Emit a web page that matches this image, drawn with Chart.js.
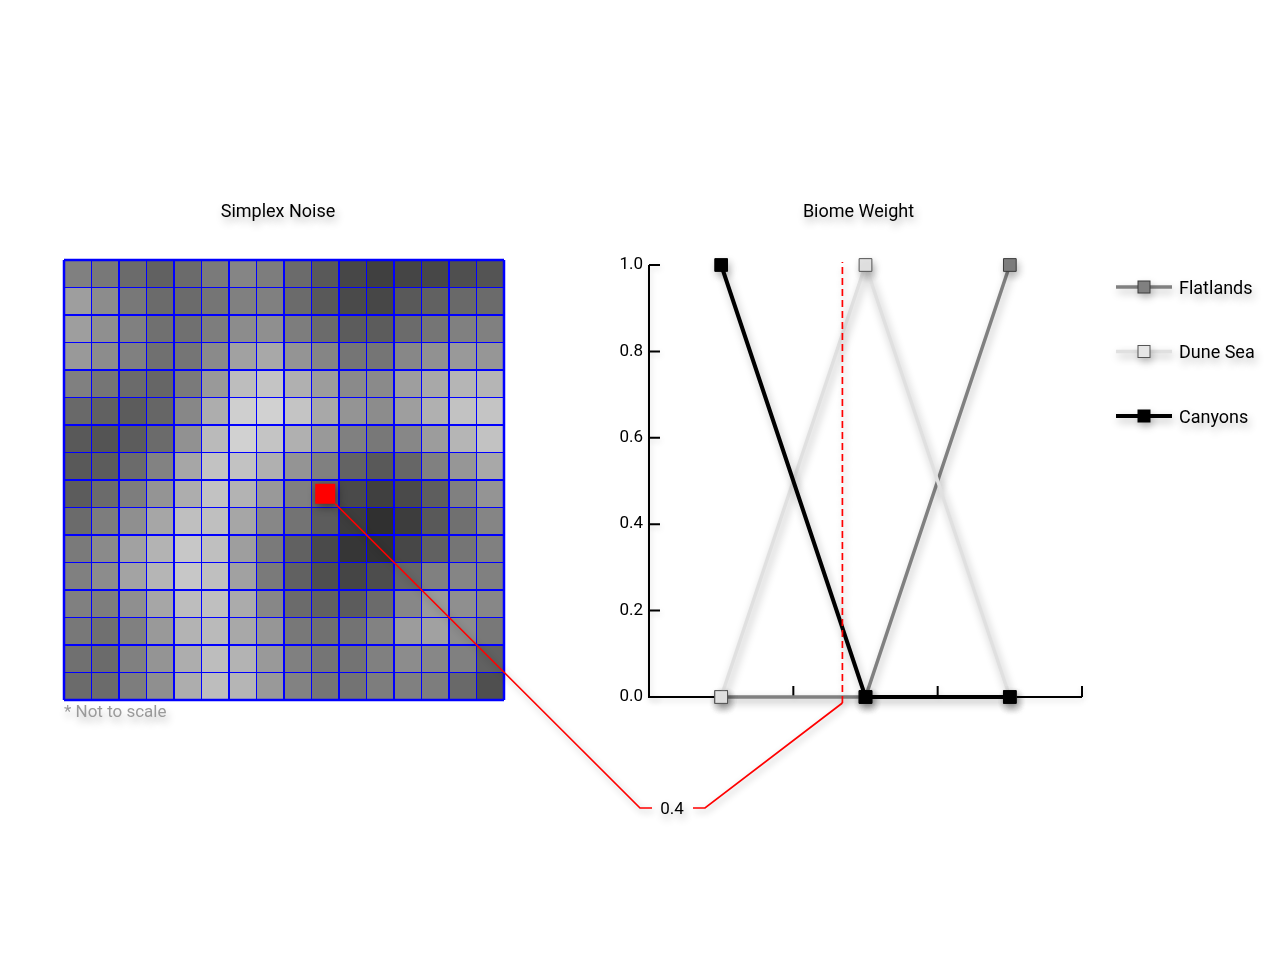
<!DOCTYPE html>
<html><head><meta charset="utf-8">
<script src="https://cdn.jsdelivr.net/npm/chart.js@4.4.0/dist/chart.umd.min.js"></script>
<style>
html,body{margin:0;padding:0;background:#fff;width:1280px;height:960px;overflow:hidden}
canvas{position:absolute;left:0;top:0}
</style></head><body>
<canvas id="noise" width="1280" height="960"></canvas>
<canvas id="biome" width="1280" height="960"></canvas>
<script>
// ---------- DATA ----------
const noiseRows = [
  [.50,.47,.42,.38,.42,.48,.52,.49,.42,.35,.28,.25,.27,.28,.31,.33],
  [.62,.55,.47,.42,.42,.46,.50,.50,.42,.35,.29,.28,.35,.38,.41,.42],
  [.62,.56,.50,.44,.44,.49,.55,.56,.49,.42,.36,.36,.42,.46,.50,.50],
  [.60,.55,.50,.44,.46,.54,.63,.66,.58,.52,.46,.46,.53,.57,.60,.59],
  [.50,.46,.42,.40,.48,.60,.74,.77,.69,.61,.54,.54,.62,.66,.71,.71],
  [.41,.38,.36,.40,.53,.68,.81,.82,.77,.66,.58,.55,.62,.69,.76,.77],
  [.35,.33,.36,.42,.57,.73,.82,.77,.69,.60,.50,.47,.53,.61,.71,.76],
  [.35,.36,.42,.51,.65,.76,.76,.69,.58,.50,.39,.35,.40,.50,.59,.66],
  [.36,.42,.49,.58,.68,.76,.70,.60,.50,.40,.29,.25,.29,.37,.50,.58],
  [.42,.49,.56,.65,.75,.75,.65,.53,.45,.36,.24,.19,.24,.35,.44,.52],
  [.48,.54,.63,.70,.78,.75,.62,.48,.38,.29,.21,.20,.28,.38,.46,.50],
  [.50,.55,.64,.71,.78,.75,.63,.48,.38,.31,.27,.30,.40,.50,.52,.50],
  [.50,.49,.56,.65,.74,.75,.67,.53,.42,.38,.36,.42,.53,.60,.56,.53],
  [.47,.44,.50,.60,.70,.73,.66,.59,.47,.44,.45,.51,.61,.63,.55,.47],
  [.44,.42,.50,.58,.68,.74,.70,.60,.50,.46,.45,.50,.55,.53,.50,.38],
  [.42,.42,.49,.56,.68,.74,.71,.60,.51,.46,.45,.49,.50,.49,.41,.31]
];
const highlightRow = 8;
const highlightCol = 9;
const noiseTitle = 'Simplex Noise';
const noiseNote = '* Not to scale';

const biomeTitle = 'Biome Weight';
const biomeCategories = ['Low', 'Mid', 'High'];
const flatlands = [0, 0, 1];
const duneSea = [0, 1, 0];
const canyons = [1, 0, 0];
const weightTicks = [0, 0.2, 0.4, 0.6, 0.8, 1.0];
const markerPosition = 0.84;

// ---------- HELPERS ----------
const FONT = 'Roboto, "Open Sans", sans-serif';
Chart.defaults.font.family = FONT;
function grayOf(v){ const g = Math.round(v*255); return `rgb(${g},${g},${g})`; }
function shadow(ctx, a, blur, ox, oy){
  ctx.shadowColor = `rgba(0,0,0,${a})`; ctx.shadowBlur = blur;
  ctx.shadowOffsetX = ox; ctx.shadowOffsetY = oy;
}
function noShadow(ctx){ ctx.shadowColor='rgba(0,0,0,0)'; ctx.shadowBlur=0; ctx.shadowOffsetX=0; ctx.shadowOffsetY=0; }

// ---------- LEFT: NOISE GRID ----------
const nCols = noiseRows[0].length, nRows = noiseRows.length;
const colLabels = noiseRows[0].map((_, i) => String(i));

const noiseOverlay = {
  id: 'noiseOverlay',
  afterDatasetsDraw(chart){
    const {ctx, chartArea: a, scales: {x, y}} = chart;
    ctx.save();
    ctx.strokeStyle = '#0000ff';
    for (let i = 0; i <= nCols; i++){
      const px = x.getPixelForValue(i - 0.5);
      ctx.lineWidth = (i === 0 || i === nCols) ? 2.5 : (i % 2 === 0 ? 2 : 1);
      ctx.beginPath(); ctx.moveTo(px, a.top); ctx.lineTo(px, a.bottom); ctx.stroke();
    }
    for (let j = 0; j <= nRows; j++){
      const py = y.getPixelForValue(j);
      ctx.lineWidth = (j === 0 || j === nRows) ? 2.5 : (j % 2 === 0 ? 2 : 1);
      ctx.beginPath(); ctx.moveTo(a.left, py); ctx.lineTo(a.right, py); ctx.stroke();
    }
    // highlighted sample
    const cx = x.getPixelForValue(highlightCol), cy = y.getPixelForValue(highlightRow + 0.5);
    shadow(ctx, 0.45, 10, 2, 3);
    ctx.fillStyle = '#ff0000';
    ctx.fillRect(cx - 10, cy - 10, 20, 20);
    // texts
    shadow(ctx, 0.3, 8, 2, 5);
    ctx.fillStyle = '#000';
    ctx.font = `18px ${FONT}`;
    ctx.textAlign = 'center'; ctx.textBaseline = 'middle';
    ctx.fillText(noiseTitle, (a.left + a.right)/2 - 6, a.top - 48);
    ctx.fillStyle = '#9a9a9a';
    ctx.font = `17px ${FONT}`;
    ctx.textAlign = 'left';
    ctx.fillText(noiseNote, a.left, a.bottom + 13);
    ctx.restore();
  }
};

const noiseChart = new Chart(document.getElementById('noise'), {
  type: 'bar',
  data: {
    labels: colLabels,
    datasets: noiseRows.map((row, r) => ({
      data: row.map(() => [r, r + 1]),
      backgroundColor: row.map(v => grayOf(v)),
      borderWidth: 0, grouped: false, barPercentage: 1, categoryPercentage: 1
    }))
  },
  options: {
    responsive: false, animation: false, devicePixelRatio: 1,
    layout: {padding: {left: 64, top: 260, right: 776, bottom: 260}},
    scales: {
      x: {display: false, offset: true},
      y: {display: false, min: 0, max: nRows, reverse: true}
    },
    plugins: {legend: {display: false}, tooltip: {enabled: false}}
  },
  plugins: [noiseOverlay]
});

// ---------- RIGHT: BIOME WEIGHT ----------
const biomeOverlay = {
  id: 'biomeOverlay',
  beforeDatasetsDraw(chart){
    const {ctx, chartArea: a, scales: {x, y}} = chart;
    ctx.save();
    shadow(ctx, 0.15, 6, 1, 3);
    ctx.strokeStyle = '#000'; ctx.lineWidth = 2; ctx.lineCap = 'butt';
    ctx.beginPath();
    ctx.moveTo(a.left, y.getPixelForValue(1)); ctx.lineTo(a.left, a.bottom); ctx.lineTo(a.right, a.bottom);
    ctx.stroke();
    ctx.beginPath();
    weightTicks.forEach(v => { const py = y.getPixelForValue(v); ctx.moveTo(a.left, py); ctx.lineTo(a.left + 11, py); });
    biomeCategories.forEach((_, i) => { const px = x.getPixelForValue(i + 0.5); ctx.moveTo(px, a.bottom); ctx.lineTo(px, a.bottom - 11); });
    ctx.stroke();
    ctx.restore();
    ctx.save();
    shadow(ctx, 0.28, 9, 2, 4);
  },
  afterDatasetsDraw(chart){
    chart.ctx.restore();
  },
  afterDraw(chart){
    const {ctx, chartArea: a, scales: {x, y}} = chart;
    ctx.save();
    // title
    shadow(ctx, 0.3, 8, 2, 5);
    ctx.fillStyle = '#000'; ctx.font = `18px ${FONT}`;
    ctx.textAlign = 'center'; ctx.textBaseline = 'middle';
    ctx.fillText(biomeTitle, (a.left + a.right)/2 - 7, 212);
    // legend
    chart.data.datasets.forEach((ds, i) => {
      const ly = a.top + 22 + i * 64.5;
      const lx0 = a.right + 34, lx1 = a.right + 90, mx = (lx0 + lx1) / 2;
      shadow(ctx, 0.28, 8, 2, 4);
      ctx.strokeStyle = ds.borderColor; ctx.lineWidth = ds.borderWidth;
      ctx.beginPath(); ctx.moveTo(lx0, ly); ctx.lineTo(lx1, ly); ctx.stroke();
      ctx.fillStyle = ds.backgroundColor; ctx.fillRect(mx - 6, ly - 6, 12, 12);
      noShadow(ctx);
      ctx.strokeStyle = ds.pointBorderColor; ctx.lineWidth = 1;
      ctx.strokeRect(mx - 6, ly - 6, 12, 12);
      shadow(ctx, 0.3, 8, 2, 5);
      ctx.fillStyle = '#000'; ctx.font = `18px ${FONT}`; ctx.textAlign = 'left';
      ctx.fillText(ds.label, lx1 + 7, ly + 2);
    });
    // connector from noise sample to weight marker
    const nx = noiseChart.scales.x, ny = noiseChart.scales.y;
    const sx = nx.getPixelForValue(highlightCol) + 10, sy = ny.getPixelForValue(highlightRow + 0.5) + 10;
    const mx = x.getPixelForValue(markerPosition);
    const labelX = a.left + 23, labelY = a.bottom + 111;
    shadow(ctx, 0.3, 7, 2, 3);
    ctx.strokeStyle = '#ff0000'; ctx.lineWidth = 1.7;
    ctx.beginPath();
    ctx.moveTo(sx, sy); ctx.lineTo(labelX - 32, labelY); ctx.lineTo(labelX - 20, labelY);
    ctx.moveTo(labelX + 21, labelY); ctx.lineTo(labelX + 33, labelY); ctx.lineTo(mx, a.bottom + 6);
    ctx.stroke();
    ctx.setLineDash([7, 4]);
    ctx.beginPath(); ctx.moveTo(mx, a.bottom + 6); ctx.lineTo(mx, y.getPixelForValue(1) - 3); ctx.stroke();
    ctx.setLineDash([]);
    shadow(ctx, 0.3, 8, 2, 5);
    ctx.fillStyle = '#000'; ctx.font = `17px ${FONT}`; ctx.textAlign = 'center';
    ctx.fillText(noiseRows[highlightRow][highlightCol].toFixed(1), labelX, labelY + 2);
    ctx.restore();
  }
};

const lineCommon = {pointStyle: 'rect', pointRadius: 9, pointHoverRadius: 9, pointBorderWidth: 1, tension: 0, clip: false};
new Chart(document.getElementById('biome'), {
  type: 'line',
  data: {
    labels: biomeCategories,
    datasets: [
      Object.assign({label: 'Flatlands', data: flatlands, borderColor: '#808080', backgroundColor: '#808080', pointBorderColor: '#3a3a3a', borderWidth: 3.5, order: 2}, lineCommon),
      Object.assign({label: 'Dune Sea', data: duneSea, borderColor: '#e0e0e0', backgroundColor: '#e6e6e6', pointBorderColor: '#555555', borderWidth: 3.5, order: 1}, lineCommon),
      Object.assign({label: 'Canyons', data: canyons, borderColor: '#000000', backgroundColor: '#000000', pointBorderColor: '#000000', borderWidth: 4, order: 0}, lineCommon)
    ]
  },
  options: {
    responsive: false, animation: false, devicePixelRatio: 1,
    layout: {padding: {left: 600, top: 265, right: 198, bottom: 263}},
    scales: {
      x: {display: false, offset: true},
      y: {
        min: 0, max: 1,
        afterBuildTicks: s => { s.ticks = weightTicks.map(v => ({value: v})); },
        afterFit: s => { s.width = 49; },
        ticks: {callback: v => Number(v).toFixed(1), color: '#000', font: {size: 17}, padding: 6},
        grid: {display: false, drawTicks: false},
        border: {display: false}
      }
    },
    plugins: {legend: {display: false}, tooltip: {enabled: false}}
  },
  plugins: [biomeOverlay]
});
</script>
</body></html>
